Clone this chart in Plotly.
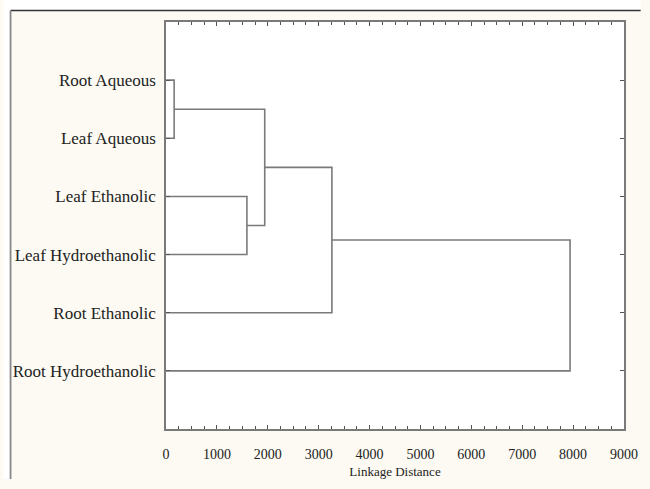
import plotly.graph_objects as go

# ---- data ----
labels = ["Root Aqueous", "Leaf Aqueous", "Leaf Ethanolic",
          "Leaf Hydroethanolic", "Root Ethanolic", "Root Hydroethanolic"]
# merges: (left cluster, right cluster, linkage distance); clusters >= 6 are earlier merges
merge_left = [0, 2, 6, 8, 9]
merge_right = [1, 3, 7, 4, 5]
merge_dist = [160, 1590, 1940, 3260, 7940]
x_ticks = [0, 1000, 2000, 3000, 4000, 5000, 6000, 7000, 8000, 9000]

# ---- build dendrogram segments ----
n = len(labels)
pos = {i: (0.0, float(i + 1)) for i in range(n)}  # cluster -> (height, y)
xs, ys = [], []
for k, (a, b, d) in enumerate(zip(merge_left, merge_right, merge_dist)):
    ha, ya = pos[a]
    hb, yb = pos[b]
    xs += [ha, d, d, hb, None]
    ys += [ya, ya, yb, yb, None]
    pos[n + k] = (d, (ya + yb) / 2)

LINE = "#7a7a7a"
fig = go.Figure()
fig.add_trace(go.Scatter(x=xs, y=ys, mode="lines",
                         line=dict(color=LINE, width=1.6),
                         hoverinfo="skip", showlegend=False))

W, H = 650, 489
L, T, R, B = 166, 22, 17, 51
FONT = "Liberation Serif, Times New Roman, serif"
fig.update_layout(
    width=W, height=H,
    margin=dict(l=L, r=R, t=T, b=B),
    paper_bgcolor="#fcfaf2",
    plot_bgcolor="#ffffff",
    font=dict(family=FONT, color="#222222"),
    xaxis=dict(range=[0, 9000], tickvals=x_ticks, showgrid=False, zeroline=False,
               ticks="inside", ticklen=4, tickcolor="#555555", tickwidth=1,
               minor=dict(dtick=250, ticks="inside", ticklen=3, tickcolor="#555555"),
               showline=True, linecolor=LINE, linewidth=1.6, mirror="ticks",
               ticklabelstandoff=11,
               tickfont=dict(size=14, family=FONT, color="#222222"),
               title=dict(text="Linkage Distance", standoff=6,
                          font=dict(size=13, family=FONT, color="#222222"))),
    yaxis=dict(range=[7, 0], tickvals=list(range(1, n + 1)), ticktext=labels,
               showgrid=False, zeroline=False,
               ticks="inside", ticklen=4, tickcolor="#555555",
               showline=True, linecolor=LINE, linewidth=1.6, mirror="ticks",
               ticklabelstandoff=5,
               tickfont=dict(size=17, family=FONT, color="#222222")),
)

# outer frame (top and left edges of the cropped figure), white outside it
PW, PH = W - L - R, H - T - B
def px(x):
    return (x - L) / PW
def py(y):
    return 1 - (y - T) / PH
fig.add_shape(type="rect", xref="paper", yref="paper", x0=px(0), x1=px(W), y0=py(10.3), y1=py(0),
              fillcolor="white", line_width=0, layer="below")
fig.add_shape(type="rect", xref="paper", yref="paper", x0=px(0), x1=px(7.5), y0=py(H), y1=py(0),
              fillcolor="white", line_width=0, layer="below")
fig.add_shape(type="line", xref="paper", yref="paper", x0=px(7.5), x1=px(W), y0=py(10.3), y1=py(10.3),
              line=dict(color="#333333", width=1.5))
fig.add_shape(type="line", xref="paper", yref="paper", x0=px(7.5), x1=px(7.5), y0=py(10.3), y1=py(H),
              line=dict(color="#888888", width=1.8))

# remove the default 8px page margin so the 650x489 figure fills the window exactly
fig.write_html("out.html", config={"displayModeBar": False},
               post_script="document.body.style.margin='0px';")
